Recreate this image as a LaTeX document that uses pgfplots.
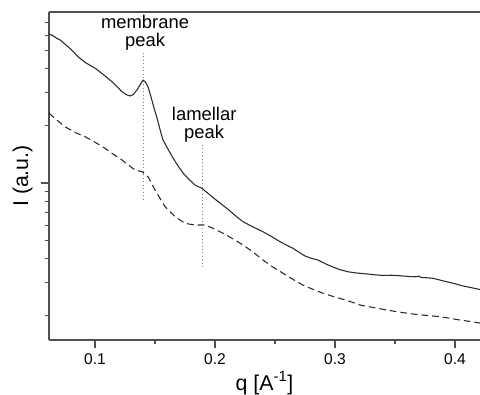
\documentclass[border=0pt]{standalone}
\usepackage{fontspec}
\setmainfont{Liberation Sans}
\usepackage{pgfplots}
\pgfplotsset{compat=1.18}
\definecolor{axgray}{HTML}{505050}
\definecolor{curve}{HTML}{2A2A2A}
\begin{document}
\begin{tikzpicture}
\begin{axis}[
  scale only axis,
  width=323.25pt, height=246pt,
  xmin=0.06167, xmax=0.42083,
  ymode=log, ymin=0.1492, ymax=7.94,
  axis x line=box, axis y line=left,
  axis line style={-, draw=axgray, line width=1pt},
  xtick={0.1,0.2,0.3,0.4},
  minor xtick={0.15,0.25,0.35},
  xtick pos=left, ytick pos=left,
  xtick align=outside, ytick align=outside,
  ytick={1},
  minor ytick={0.2,0.3,0.4,0.5,0.6,0.7,0.8,0.9,2,3,4,5,6,7,8},
  yticklabels={},
  major tick length=6pt, minor tick length=3.2pt,
  every tick/.style={draw=axgray, line width=0.9pt},
  xticklabel style={/pgf/number format/fixed, /pgf/number format/precision=1, yshift=-1pt},
  /pgf/number format/assume math mode=true,
  tick label style={font=\fontsize{11.7}{14}\selectfont},
  label style={font=\fontsize{16}{19}\selectfont},
  xlabel={q [A\textsuperscript{-1}]},
  ylabel={I (a.u.)},
  xlabel style={yshift=2pt},
  ylabel style={yshift=-4pt},
]
\coordinate (sw) at (rel axis cs:0,0);
\coordinate (ne) at (rel axis cs:1,1);
% solid curve
\addplot[curve, line width=0.8pt] coordinates {
(0.06167,6.09) (0.0650,5.95) (0.0680,5.78) (0.07083,5.66) (0.0750,5.38) (0.0800,5.05) (0.08583,4.62)
(0.0920,4.30) (0.1000,4.02) (0.1070,3.72) (0.11417,3.41) (0.1190,3.18) (0.1225,3.02)
(0.1260,2.92) (0.12917,2.87) (0.1320,2.92) (0.1350,3.09) (0.1380,3.32) (0.1400,3.48)
(0.1420,3.40) (0.14417,3.21) (0.14667,2.84) (0.1490,2.50) (0.15167,2.20) (0.1540,1.93)
(0.15667,1.684) (0.1610,1.50) (0.1650,1.354) (0.1690,1.235) (0.17333,1.129) (0.1780,1.05)
(0.18333,0.976) (0.1870,0.950) (0.18917,0.938) (0.1920,0.905) (0.19583,0.865) (0.2000,0.822)
(0.20417,0.785) (0.2110,0.725) (0.21833,0.662) (0.22333,0.626) (0.2310,0.590) (0.2400,0.554)
(0.2470,0.523) (0.25417,0.491) (0.2600,0.470) (0.2650,0.453) (0.2700,0.432) (0.2750,0.413)
(0.2800,0.402) (0.28583,0.393) (0.2920,0.376) (0.29833,0.361) (0.3040,0.350) (0.31083,0.341)
(0.3180,0.336) (0.32667,0.332) (0.3330,0.329) (0.3400,0.326) (0.3470,0.327) (0.35417,0.325)
(0.3620,0.322) (0.3670,0.321) (0.3700,0.323) (0.3720,0.318) (0.3770,0.317) (0.38167,0.315)
(0.3870,0.309) (0.39333,0.302) (0.4000,0.295) (0.40667,0.287) (0.4140,0.281) (0.42083,0.275)
};
% dashed curve
\addplot[curve, line width=0.8pt, dash pattern=on 5pt off 3pt] coordinates {
(0.06167,2.33) (0.0680,2.15) (0.0750,1.978) (0.0830,1.85) (0.09167,1.753) (0.1000,1.64)
(0.10833,1.522) (0.1150,1.42) (0.1225,1.321) (0.1280,1.24) (0.13333,1.171) (0.13917,1.147)
(0.14417,1.079) (0.1470,1.00) (0.1500,0.919) (0.15833,0.750) (0.16667,0.665) (0.1750,0.614)
(0.1800,0.605) (0.18583,0.601) (0.19167,0.601) (0.1990,0.575) (0.20667,0.544) (0.2150,0.508)
(0.22333,0.472) (0.2320,0.432) (0.2400,0.393) (0.2480,0.362) (0.25667,0.335) (0.2650,0.311)
(0.27333,0.290) (0.2820,0.275) (0.2900,0.263) (0.3000,0.251) (0.3100,0.241) (0.32083,0.228)
(0.3320,0.221) (0.34333,0.2146) (0.3540,0.209) (0.3650,0.2044) (0.3760,0.201) (0.3875,0.1979)
(0.3960,0.194) (0.40417,0.190) (0.4120,0.187) (0.42083,0.1833)
};
% dotted marker lines
\addplot[gray, dotted, line width=0.6pt] coordinates {(0.1400,4.83) (0.1400,0.814)};
\addplot[gray, dotted, line width=0.6pt] coordinates {(0.1898,1.585) (0.1898,0.361)};
\node[font=\fontsize{13.8}{13.5}\selectfont, align=center, anchor=south, inner sep=0pt]
  at (axis cs:0.1417,4.95) {membrane\\peak};
\node[font=\fontsize{13.8}{13.5}\selectfont, align=center, anchor=south, inner sep=0pt]
  at (axis cs:0.1910,1.63) {lamellar\\peak};
\end{axis}
\pgfresetboundingbox
\path ([xshift=-36.75pt,yshift=-41.25pt]sw) rectangle ([yshift=9pt]ne);
\end{tikzpicture}
\end{document}
